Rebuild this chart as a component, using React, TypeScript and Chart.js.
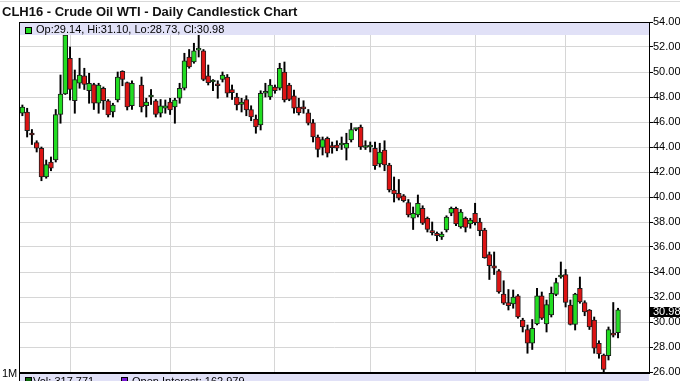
import { useEffect, useRef } from 'react';
import { Chart, registerables } from 'chart.js';

Chart.register(...registerables);

const TITLE = 'CLH16 - Crude Oil WTI - Daily Candlestick Chart';
const VOL_LABEL = 'Vol: 317,771';
const OI_LABEL = 'Open Interest: 162,979';
const VOL_AXIS_LABEL = '1M';

// Trading-day slots on the category axis (126 sessions + empty room on the right)
const SLOT_COUNT = 132;
// Slot indices where a new month starts (Sep, Oct, Nov, Dec, Jan, Feb)
const MONTH_START_IDX = [10, 31, 53, 73, 95, 114];

const Y_MIN = 26;
const Y_MAX = 54;
const Y_STEP = 2;

const OPEN = [
  46.7, 46.8, 45.1, 44.35, 43.9, 41.6, 42.8, 42.96, 46.6, 48.24,
  51.1, 47.7, 49.1, 49.7, 48.5, 49.0, 47.5, 48.7, 47.7, 46.8,
  47.76, 50.05, 49.15, 47.3, null, 48.96, 47.3, 48.0, 47.7, 46.7,
  47.1, 47.6, 47.2, 47.9, 48.7, 51.2, 50.8, 51.75, 51.7, 49.7,
  49.2, 48.95, 49.4, 49.6, 48.6, 48.0, 47.4, 47.8, 47.0, 46.24,
  45.76, 48.3, 48.0, 48.8, 48.7, 50.0, 48.96, 48.1, 47.2, 47.1,
  46.74, 45.94, 44.8, 43.96, 44.7, 44.0, 44.16, 44.16, 43.9, 44.56,
  45.4, 45.6, 43.96, 44.0, 43.9, 42.64, 43.76, 42.56, 40.56, 40.3,
  40.1, 39.56, 38.3, 38.56, 39.1, 38.3, 37.2, 37.1, 36.8, 37.36,
  38.7, 39.1, 37.6, 38.3, 37.84, 38.7, 38.0, 37.36, 35.4, 34.5,
  34.1, 32.24, 31.56, 31.44, 32.1, 30.16, 29.4, 28.3, 29.84, 32.1,
  29.84, 30.56, 32.2, 33.6, 33.8, 31.36, 29.8, 32.7, 31.56, 30.96,
  30.16, 28.3, 27.36, 27.3, 29.0, 29.14,
];

const HIGH = [
  47.36, 47.1, 45.4, 44.5, 44.0, 42.96, 43.2, 47.0, 49.76, 53.1,
  52.0, 50.16, 51.1, 50.3, 49.9, 49.1, 49.1, 48.8, 47.8, 47.5,
  50.0, 50.1, 49.2, 49.3, null, 49.6, 47.9, 48.6, 47.8, 47.8,
  47.76, 47.9, 47.9, 49.1, 51.5, 51.8, 52.3, 52.96, 51.8, 50.56,
  49.4, 49.3, 50.0, 49.8, 48.96, 48.3, 47.9, 48.1, 47.3, 46.56,
  48.5, 49.1, 49.4, 48.96, 50.7, 50.8, 49.1, 48.56, 47.9, 47.7,
  47.0, 46.2, 44.96, 44.8, 44.8, 44.4, 44.5, 44.8, 45.1, 45.9,
  45.5, 45.76, 44.5, 44.4, 44.4, 44.3, 44.5, 42.7, 41.6, 41.4,
  40.2, 39.8, 39.2, 40.16, 39.3, 38.4, 38.0, 37.2, 37.2, 38.5,
  39.2, 39.2, 39.0, 38.4, 38.3, 39.5, 38.3, 37.5, 35.6, 35.6,
  34.2, 33.3, 32.6, 32.56, 32.2, 30.3, 29.76, 30.2, 32.7, 32.4,
  31.76, 32.8, 33.5, 34.8, 34.2, 31.76, 32.3, 33.6, 31.7, 31.0,
  30.4, 28.5, 27.44, 29.6, 31.56, 31.1,
];

const LOW = [
  46.5, 44.8, 44.2, 43.6, 41.3, 41.5, 42.1, 42.8, 45.9, 48.2,
  47.76, 46.7, 48.7, 48.6, 47.5, 47.0, 46.7, 47.0, 46.4, 46.4,
  47.6, 48.9, 46.96, 47.0, null, 46.8, 46.4, 47.4, 46.4, 46.4,
  46.7, 46.6, 45.9, 47.5, 48.56, 50.3, 50.7, 51.2, 49.3, 48.96,
  48.5, 47.9, 49.2, 48.0, 47.8, 46.96, 46.8, 46.5, 46.1, 45.1,
  45.36, 48.0, 47.8, 48.3, 48.56, 47.6, 47.7, 46.7, 46.56, 46.7,
  45.76, 44.4, 43.2, 43.36, 43.2, 43.5, 43.7, 43.8, 42.96, 44.4,
  45.3, 43.8, 43.8, 43.6, 42.2, 42.4, 42.1, 40.4, 39.6, 39.76,
  39.6, 38.4, 37.4, 38.4, 37.8, 37.2, 36.96, 36.5, 36.6, 37.2,
  38.5, 37.7, 37.5, 37.2, 37.5, 37.76, 36.9, 35.1, 33.4, 33.8,
  32.3, 31.4, 30.96, 31.1, 30.3, 29.2, 27.5, 27.8, 29.76, 30.2,
  29.2, 30.4, 32.1, 33.5, 31.2, 29.76, 29.36, 31.5, 30.5, 29.4,
  27.5, 27.1, 26.0, 26.96, 28.8, 28.73,
];

const CLOSE = [
  47.2, 45.3, 44.96, 43.9, 41.6, 42.6, 42.3, 46.6, 48.24, 52.96,
  48.6, 49.4, 49.76, 49.0, 49.1, 47.5, 48.96, 47.7, 46.56, 47.36,
  49.6, 49.4, 47.2, 49.1, null, 47.2, 47.6, 48.05, 46.6, 47.3,
  47.3, 46.96, 47.76, 48.7, 50.9, 50.4, 51.7, 51.85, 49.4, 49.15,
  49.25, 48.9, 49.76, 48.3, 48.35, 47.36, 47.6, 46.96, 46.4, 45.6,
  48.3, 48.4, 48.96, 48.5, 50.3, 47.76, 47.8, 47.1, 46.74, 47.05,
  45.9, 44.8, 43.8, 44.6, 43.5, 43.95, 43.9, 44.2, 44.3, 45.4,
  45.45, 44.0, 44.0, 44.05, 42.5, 43.6, 42.56, 40.56, 40.24, 39.9,
  39.7, 38.56, 38.7, 39.5, 37.9, 37.4, 37.15, 36.9, 37.04, 38.4,
  39.1, 37.84, 38.8, 37.56, 38.16, 37.94, 37.3, 35.14, 34.5, 34.3,
  32.4, 31.5, 31.3, 32.0, 30.4, 29.6, 28.3, 29.5, 32.1, 30.3,
  31.4, 32.3, 33.16, 33.65, 31.56, 29.8, 32.24, 31.6, 30.8, 29.6,
  27.9, 27.44, 26.2, 29.4, 28.95, 30.98,
];

const FONT = '"Liberation Sans", Arial, Helvetica, sans-serif';
const UP = '#22dd22';
const DOWN = '#dd1414';
const EDGE = '#1e1e1e';
const GRID = '#d6d6d6';
const BAND = '#e1e1f7';

export default function App() {
  const ref = useRef<HTMLCanvasElement | null>(null);

  useEffect(() => {
    document.body.style.margin = '0';
    const canvas = ref.current;
    if (!canvas) return;

    const labels = Array.from({ length: SLOT_COUNT }, (_, i) => String(i));
    const bodies = OPEN.map((o, i) => (o == null || CLOSE[i] == null ? null : [o, CLOSE[i]]));
    const wicks = LOW.map((l, i) => (l == null || HIGH[i] == null ? null : [l, HIGH[i]]));
    const bodyColors = OPEN.map((o, i) => ((CLOSE[i] ?? 0) >= (o ?? 0) ? UP : DOWN));

    const last = OPEN.length - 1;
    const legendText = `Op:${OPEN[last]!.toFixed(2)}, Hi:${HIGH[last]!.toFixed(2)}, Lo:${LOW[last]!.toFixed(2)}, Cl:${CLOSE[last]!.toFixed(2)}`;

    const decor = {
      id: 'decor',
      beforeDraw(chart: any) {
        const ctx = chart.ctx;
        ctx.save();
        ctx.fillStyle = '#ffffff';
        ctx.fillRect(0, 0, chart.width, chart.height);
        ctx.fillStyle = '#d9d9d9';
        ctx.fillRect(0, 1, chart.width, 1);
        ctx.restore();
      },
      afterDatasetsDraw(chart: any) {
        const ctx = chart.ctx;
        const a = chart.chartArea;
        ctx.save();
        // legend band at top of price panel
        ctx.fillStyle = BAND;
        ctx.fillRect(a.left, a.top + 1, a.right - a.left, 12);
        ctx.fillStyle = UP;
        ctx.fillRect(a.left + 5, a.top + 5, 6, 6);
        ctx.strokeStyle = '#000';
        ctx.lineWidth = 1;
        ctx.strokeRect(a.left + 5.5, a.top + 5.5, 6, 6);
        ctx.fillStyle = '#000';
        ctx.font = `11px ${FONT}`;
        ctx.textBaseline = 'alphabetic';
        ctx.textAlign = 'left';
        ctx.fillText(legendText, a.left + 16, a.top + 11);
        ctx.restore();
      },
      afterDraw(chart: any) {
        const ctx = chart.ctx;
        const a = chart.chartArea;
        const y = chart.scales.y;
        ctx.save();
        // frame
        ctx.fillStyle = '#000';
        ctx.fillRect(a.left - 1, a.top, a.right - a.left + 1, 1);
        ctx.fillRect(a.left - 1, a.top, 1, chart.height - a.top);
        ctx.fillRect(a.left - 1, a.bottom, a.right - a.left + 2, 2);
        // volume panel header
        ctx.fillStyle = BAND;
        ctx.fillRect(a.left, a.bottom + 2, a.right - a.left, chart.height - a.bottom - 2);
        ctx.fillStyle = '#0d6a0d';
        ctx.fillRect(a.left + 5, a.bottom + 5, 6, 6);
        ctx.fillStyle = '#7a18d6';
        ctx.fillRect(a.left + 101, a.bottom + 5, 6, 6);
        ctx.strokeStyle = '#000';
        ctx.lineWidth = 1;
        ctx.strokeRect(a.left + 5.5, a.bottom + 5.5, 6, 6);
        ctx.strokeRect(a.left + 101.5, a.bottom + 5.5, 6, 6);
        ctx.fillStyle = '#000';
        ctx.font = `11px ${FONT}`;
        ctx.textAlign = 'left';
        ctx.textBaseline = 'alphabetic';
        ctx.fillText(VOL_LABEL, a.left + 13, a.bottom + 13);
        ctx.fillText(OI_LABEL, a.left + 112, a.bottom + 13);
        ctx.fillText(VOL_AXIS_LABEL, 2, a.bottom + 5);
        // title
        ctx.font = `bold 13px ${FONT}`;
        ctx.fillStyle = '#111';
        ctx.fillText(TITLE, 2, 16);
        // last price marker on the axis
        const lastClose = CLOSE[CLOSE.length - 1] as number;
        const py = y.getPixelForValue(lastClose);
        ctx.fillStyle = '#000';
        ctx.fillRect(a.right + 1, Math.round(py) - 3, 31, 10);
        ctx.fillStyle = '#fff';
        ctx.font = `11px ${FONT}`;
        ctx.textBaseline = 'middle';
        ctx.fillText(lastClose.toFixed(2), a.right + 4, Math.round(py) + 2);
        ctx.restore();
      },
    };

    const chart = new Chart(canvas, {
      type: 'bar',
      data: {
        labels,
        datasets: [
          {
            label: 'wick',
            data: wicks as any,
            backgroundColor: '#000',
            borderWidth: 0,
            barThickness: 1.3,
            grouped: false,
            order: 2,
          } as any,
          {
            label: 'body',
            data: bodies as any,
            backgroundColor: bodyColors,
            borderColor: EDGE,
            borderWidth: 1,
            borderSkipped: false,
            barThickness: 4.8,
            minBarLength: 2,
            grouped: false,
            order: 1,
          } as any,
        ],
      },
      options: {
        responsive: false,
        animation: false,
        devicePixelRatio: 1,
        layout: { padding: { left: 20, top: 22, right: 0, bottom: 9 } },
        plugins: {
          legend: { display: false },
          tooltip: { enabled: false },
          title: { display: false },
        },
        scales: {
          x: {
            type: 'category',
            offset: true,
            grid: {
              offset: false,
              drawTicks: false,
              color: (c: any) => (MONTH_START_IDX.includes(c.index) ? GRID : 'rgba(0,0,0,0)'),
            },
            border: { display: false },
            ticks: { display: false, autoSkip: false },
            afterFit: (s: any) => {
              s.height = 0;
            },
          },
          y: {
            position: 'right',
            min: Y_MIN,
            max: Y_MAX,
            grid: { color: GRID, tickColor: '#000', tickLength: 4 },
            border: { display: true, color: '#000', width: 1 },
            ticks: {
              stepSize: Y_STEP,
              padding: 0,
              color: '#000',
              font: { family: FONT, size: 11 },
              callback: (v: any) => Number(v).toFixed(2),
            },
            afterFit: (s: any) => {
              s.width = 31;
            },
          },
        },
      } as any,
      plugins: [decor],
    });

    return () => chart.destroy();
  }, []);

  return (
    <div style={{ position: 'fixed', left: 0, top: 0, width: 680, height: 381 }}>
      <canvas ref={ref} width={680} height={381} style={{ display: 'block', width: 680, height: 381 }} />
    </div>
  );
}
